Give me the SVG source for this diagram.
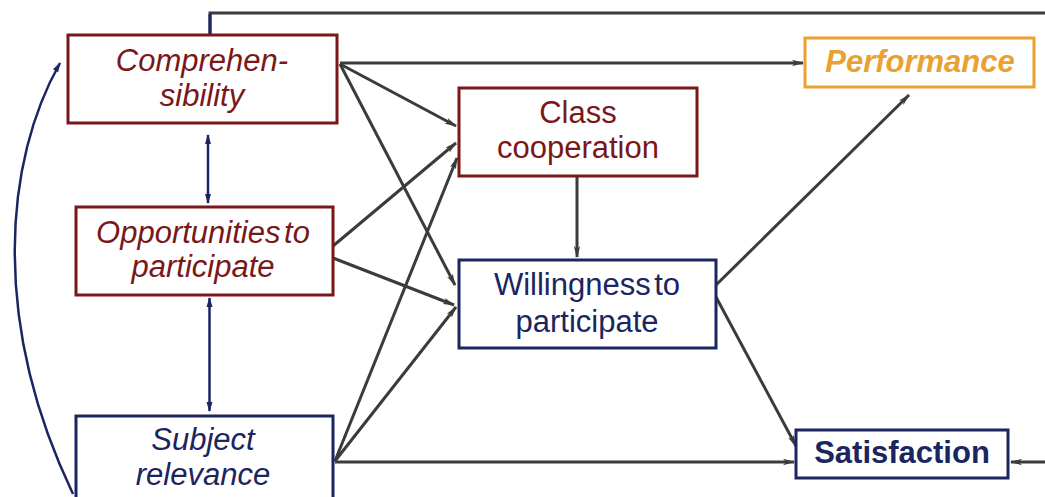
<svg xmlns="http://www.w3.org/2000/svg" width="1045" height="497" viewBox="0 0 1045 497">
<style>
.box{fill:#fff;stroke-width:3}
.red{stroke:#7a1718}
.navy{stroke:#1b2560}
.orange{stroke:#e9a232}
.t{font-family:"Liberation Sans",Arial,sans-serif;font-size:31px;text-anchor:middle}
.tr{fill:#7a1718;font-style:italic}
.tn{fill:#1b2560}
.link{fill:none;stroke:#3b3b3b;stroke-width:3}
.dbl{fill:none;stroke:#1b2560;stroke-width:2.5}
</style>
<defs>
<marker id="ah" viewBox="0 0 12 8" refX="11" refY="4" markerWidth="12" markerHeight="8" markerUnits="userSpaceOnUse" orient="auto">
<path d="M0,0.8 L12,4 L0,7.2 L3,4 Z" fill="#3b3b3b"/>
</marker>
<marker id="an" viewBox="0 0 10 8" refX="9" refY="4" markerWidth="10" markerHeight="8" markerUnits="userSpaceOnUse" orient="auto-start-reverse">
<path d="M0,1 L10,4 L0,7 Z" fill="#1b2560"/>
</marker>
</defs>
<rect width="1045" height="497" fill="#fff"/>
<g id="connectors">
<path class="link" d="M210,35 V13 H1045"/>
<path d="M210,35 V14" fill="none" stroke="#1b2560" stroke-width="3"/>
<line class="link" x1="340" y1="63" x2="803" y2="63" marker-end="url(#ah)"/>
<line class="link" x1="340" y1="64" x2="456" y2="126" marker-end="url(#ah)"/>
<line class="link" x1="340" y1="64" x2="455" y2="285" marker-end="url(#ah)"/>
<line class="link" x1="333" y1="246" x2="456" y2="143" marker-end="url(#ah)"/>
<line class="link" x1="333" y1="258" x2="454" y2="305" marker-end="url(#ah)"/>
<line class="link" x1="335" y1="461" x2="457" y2="158" marker-end="url(#ah)"/>
<line class="link" x1="335" y1="461" x2="456" y2="307" marker-end="url(#ah)"/>
<line class="link" x1="335" y1="462" x2="794" y2="462" marker-end="url(#ah)"/>
<line class="link" x1="577" y1="176" x2="577" y2="257" marker-end="url(#ah)"/>
<line class="link" x1="716" y1="285" x2="909" y2="95" marker-end="url(#ah)"/>
<line class="link" x1="716" y1="297" x2="796" y2="446" marker-end="url(#ah)"/>
<line class="link" x1="1045" y1="462" x2="1011" y2="462" marker-end="url(#ah)"/>
<line class="dbl" x1="208" y1="135" x2="208" y2="203" marker-start="url(#an)" marker-end="url(#an)"/>
<line class="dbl" x1="209.5" y1="298" x2="209.5" y2="411" marker-start="url(#an)" marker-end="url(#an)"/>
<path class="dbl" d="M73,494 C-10,320 5,160 60,63" marker-end="url(#an)"/>
</g>
<g id="comprehensibility">
<rect class="box red" x="68" y="35" width="269" height="88"/>
<text class="t tr" x="202" y="71">Comprehen-</text>
<text class="t tr" x="202" y="106">sibility</text>
</g>
<g id="opportunities">
<rect class="box red" x="76" y="207" width="257" height="88"/>
<text class="t tr" x="203" y="243" word-spacing="-5">Opportunities to</text>
<text class="t tr" x="203" y="277">participate</text>
</g>
<g id="subject-relevance">
<rect class="box navy" x="76" y="416" width="257" height="100"/>
<text class="t tn" x="203" y="450" font-style="italic">Subject</text>
<text class="t tn" x="203" y="485" font-style="italic">relevance</text>
</g>
<g id="class-cooperation">
<rect class="box red" x="459" y="88" width="238" height="88"/>
<text class="t" x="578" y="123" fill="#7a1718">Class</text>
<text class="t" x="578" y="158" fill="#7a1718">cooperation</text>
</g>
<g id="willingness">
<rect class="box navy" x="459" y="260" width="257" height="88"/>
<text class="t tn" x="587" y="295" word-spacing="-5">Willingness to</text>
<text class="t tn" x="587" y="332">participate</text>
</g>
<g id="performance">
<rect class="box orange" x="805" y="38" width="229" height="49"/>
<text class="t" x="920" y="72" fill="#e9a232" font-weight="bold" font-style="italic">Performance</text>
</g>
<g id="satisfaction">
<rect class="box navy" x="796" y="430" width="212" height="48"/>
<text class="t tn" x="902" y="463" font-weight="bold">Satisfaction</text>
</g>
</svg>
